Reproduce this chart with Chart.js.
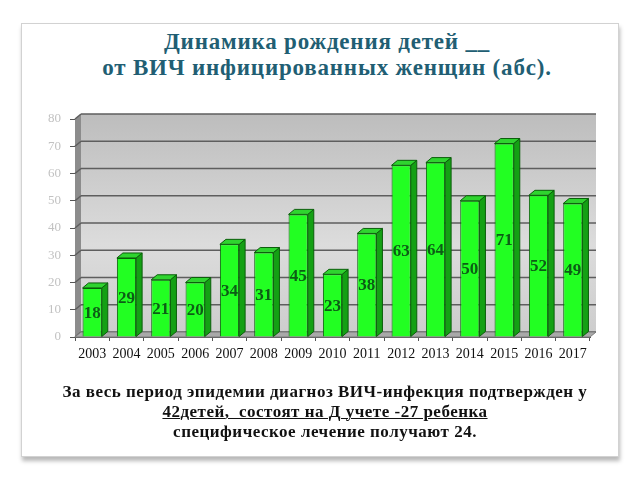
<!DOCTYPE html>
<html>
<head>
<meta charset="utf-8">
<script src="https://cdn.jsdelivr.net/npm/chart.js@4"></script>
<style>
  html, body { margin: 0; padding: 0; background: #fff; }
  #page { position: relative; width: 640px; height: 480px; overflow: hidden; }
  #card {
    position: absolute; left: 21px; top: 23px; width: 596px; height: 432px;
    border: 1px solid #d2d2d2; background: #fff;
    box-shadow: 1px 4px 4px rgba(0,0,0,0.28);
  }
  #title {
    position: absolute; left: 0; top: 29px; width: 654px; text-align: center;
    font: bold 23px "Liberation Serif", serif; line-height: 26px; color: #215e73;
    letter-spacing: 0.8px;
  }
  #note {
    position: absolute; left: 0; top: 382px; width: 650px; text-align: center;
    font: bold 17px "Liberation Serif", serif; line-height: 20px; color: #111;
    letter-spacing: 0.5px;
  }
  #note u { text-decoration-thickness: 1px; }
  #wrap { position: absolute; left: 0; top: 0; width: 640px; height: 480px; }
</style>
</head>
<body>
<div id="page">
  <div id="card"></div>
  <div id="title">Динамика рождения детей __<br>от ВИЧ инфицированных женщин (абс).</div>
  <div id="wrap"><canvas id="chart"></canvas></div>
  <div id="note">За весь период эпидемии диагноз ВИЧ-инфекция подтвержден у<br><u>42детей,&nbsp; состоят на Д учете -27 ребенка</u><br>специфическое лечение получают 24.</div>
</div>
<script>
// Данные графика
const years = ['2003', '2004', '2005', '2006', '2007', '2008', '2009', '2010', '2011', '2012', '2013', '2014', '2015', '2016', '2017'];
const births = [18, 29, 21, 20, 34, 31, 45, 23, 38, 63, 64, 50, 71, 52, 49];
const yTicks = [0, 10, 20, 30, 40, 50, 60, 70, 80];

// Глубина "3D" эффекта
const DX = 6, DY = 5;

// Стены и пол (рисуем до столбцов)
const wallsPlugin = {
  id: 'walls',
  beforeDatasetsDraw(chart) {
    const ctx = chart.ctx;
    const a = chart.chartArea;
    const y = chart.scales.y;
    ctx.save();
    // задняя стена
    const g = ctx.createLinearGradient(0, a.top - DY, 0, a.bottom - DY);
    g.addColorStop(0, '#bdbdbd');
    g.addColorStop(0.6, '#dcdcdc');
    g.addColorStop(1, '#cdcdcd');
    ctx.fillStyle = g;
    ctx.fillRect(a.left + DX, a.top - DY, a.right - a.left, a.bottom - a.top);
    // левая стена
    ctx.fillStyle = '#8c8c8c';
    ctx.beginPath();
    ctx.moveTo(a.left, a.top);
    ctx.lineTo(a.left + DX, a.top - DY);
    ctx.lineTo(a.left + DX, a.bottom - DY);
    ctx.lineTo(a.left, a.bottom);
    ctx.closePath();
    ctx.fill();
    // линии сетки на задней стене
    ctx.strokeStyle = '#5e5e5e';
    ctx.lineWidth = 1.5;
    yTicks.forEach(v => {
      const py = y.getPixelForValue(v) - DY;
      ctx.beginPath();
      ctx.moveTo(a.left + DX, py);
      ctx.lineTo(a.right + DX, py);
      ctx.stroke();
      ctx.beginPath();
      ctx.moveTo(a.left, py + DY);
      ctx.lineTo(a.left + DX, py);
      ctx.stroke();
    });
    // пол
    ctx.fillStyle = '#a9a9a9';
    ctx.beginPath();
    ctx.moveTo(a.left, a.bottom);
    ctx.lineTo(a.left + DX, a.bottom - DY);
    ctx.lineTo(a.right + DX, a.bottom - DY);
    ctx.lineTo(a.right, a.bottom);
    ctx.closePath();
    ctx.fill();
    ctx.strokeStyle = '#7a7a7a';
    ctx.lineWidth = 1;
    ctx.stroke();
    ctx.restore();
  },
  // боковые и верхние грани столбцов + подписи
  afterDatasetsDraw(chart) {
    const ctx = chart.ctx;
    const meta = chart.getDatasetMeta(0);
    ctx.save();
    ctx.lineWidth = 1;
    ctx.strokeStyle = '#0b5e0b';
    meta.data.forEach((bar, i) => {
      const l = bar.x - bar.width / 2, r = bar.x + bar.width / 2;
      const t = bar.y, b = bar.base;
      // боковая грань
      ctx.fillStyle = '#14a014';
      ctx.beginPath();
      ctx.moveTo(r, t);
      ctx.lineTo(r + DX, t - DY);
      ctx.lineTo(r + DX, b - DY);
      ctx.lineTo(r, b);
      ctx.closePath();
      ctx.fill();
      ctx.stroke();
      // верхняя грань
      ctx.fillStyle = '#2fd42f';
      ctx.beginPath();
      ctx.moveTo(l, t);
      ctx.lineTo(l + DX, t - DY);
      ctx.lineTo(r + DX, t - DY);
      ctx.lineTo(r, t);
      ctx.closePath();
      ctx.fill();
      ctx.stroke();
      // подпись
      ctx.fillStyle = '#0d5c16';
      ctx.font = 'bold 17px "Liberation Serif", serif';
      ctx.textAlign = 'center';
      ctx.textBaseline = 'middle';
      ctx.fillText(births[i], bar.x, (t + b) / 2 + 1);
    });
    ctx.restore();
  }
};

const chart = new Chart(document.getElementById('chart'), {
  type: 'bar',
  data: {
    labels: years,
    datasets: [{
      data: births,
      backgroundColor: '#22ff22',
      borderColor: '#0b5e0b',
      borderWidth: 1,
      barPercentage: 0.56,
      categoryPercentage: 1.0
    }]
  },
  options: {
    responsive: true,
    maintainAspectRatio: false,
    animation: false,
    layout: { padding: { left: 20, right: 50, top: 119, bottom: 0 } },
    plugins: {
      legend: { display: false },
      tooltip: { enabled: false }
    },
    scales: {
      x: {
        afterFit(scale) { scale.height = 143; },
        grid: { offset: true, drawOnChartArea: false, tickLength: 4, color: '#555' },
        border: { color: '#555' },
        ticks: { color: '#111', padding: 5, font: { family: 'Liberation Serif', size: 14 } }
      },
      y: {
        min: 0,
        max: 80,
        afterFit(scale) { scale.width = 55; },
        afterBuildTicks(scale) { scale.ticks = yTicks.map(v => ({ value: v })); },
        grid: { drawOnChartArea: false, tickLength: 5, color: '#555' },
        border: { color: '#555' },
        ticks: { color: '#c2c2c2', padding: 9, font: { family: 'Liberation Serif', size: 13 } }
      }
    }
  },
  plugins: [wallsPlugin]
});
</script>
</body>
</html>
